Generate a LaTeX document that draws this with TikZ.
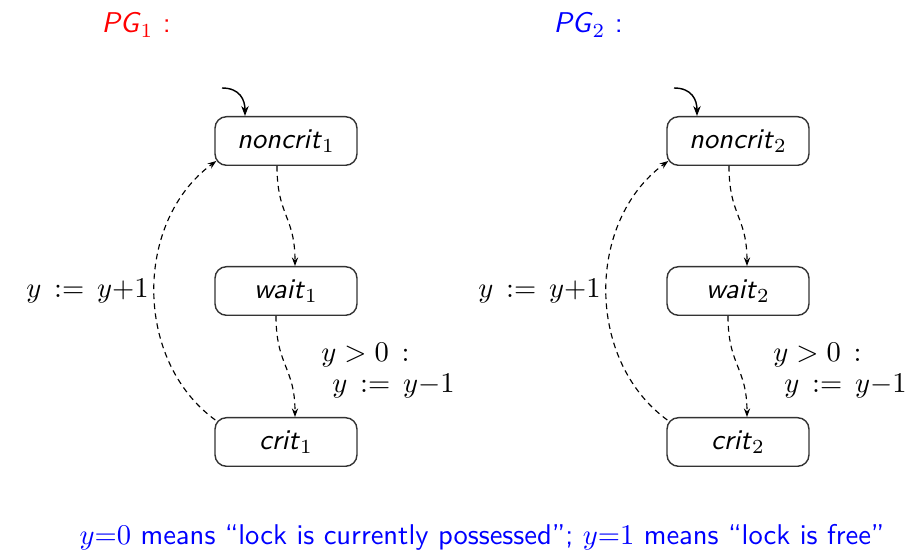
\documentclass[tikz,border=0pt]{standalone}
\usetikzlibrary{arrows.meta}
\begin{document}
\begin{tikzpicture}[x=0.35pt,y=-0.35pt,
  loc/.style={draw=black!80,line width=0.5pt,rounded corners=4pt,minimum width=49.7pt,minimum height=17pt,inner sep=0pt,font=\sffamily},
  trans/.style={dashed,dash pattern=on 2pt off 1.5pt,line width=0.4pt,-{Stealth[length=3pt,width=2.2pt]}},
  init/.style={line width=0.5pt,-{Stealth[length=3.5pt,width=2.6pt]}},
  lbl/.style={inner sep=1pt}]
\useasboundingbox (0,0) rectangle (924,559);
\foreach \i/\dx/\col in {1/0/red,2/452/blue}{
  \begin{scope}[xshift=\dx*0.35pt]
  \node[anchor=west,text=\col,font=\sffamily,inner sep=0pt] (pg\i) at (101,25) {\textit{PG}$_{\i}$ :};
  \node[loc] (n\i) at (286,141) {\textit{noncrit}$_{\i}$};
  \node[loc] (w\i) at (286,291) {\textit{wait}$_{\i}$};
  \node[loc] (c\i) at (286,442) {\textit{crit}$_{\i}$};
  \coordinate (s\i) at (222,88);
  \draw[init] (s\i) .. controls (240,88) and (245,100) .. ([xshift=-41*0.35pt]n\i.north);
  \draw[trans] ([xshift=-9*0.35pt]n\i.south) .. controls +(0,50) and +(0,-50) .. ([xshift=9*0.35pt]w\i.north);
  \draw[trans] ([xshift=-10*0.35pt]w\i.south) .. controls +(0,50) and +(0,-50) .. ([xshift=9*0.35pt]c\i.north);
  \draw[trans] ([shift={(1,3)}]c\i.north west) .. controls +(-82,-60) and +(-82,60) .. ([shift={(2,-5)}]n\i.south west);
  \node[lbl,anchor=east] (l\i) at (152,291) {$y \,:=\, y{+}1$};
  \node[lbl,anchor=west] (g\i) at (318,355) {$y > 0\,:$};
  \node[lbl,anchor=west] (a\i) at (329,386) {$y \,:=\, y{-}1$};
  \end{scope}
}
\node[text=blue,font=\sffamily] (note) at (482,537) {$y{=}0$ means ``lock is currently possessed''; $y{=}1$ means ``lock is free''};
\end{tikzpicture}
\end{document}
